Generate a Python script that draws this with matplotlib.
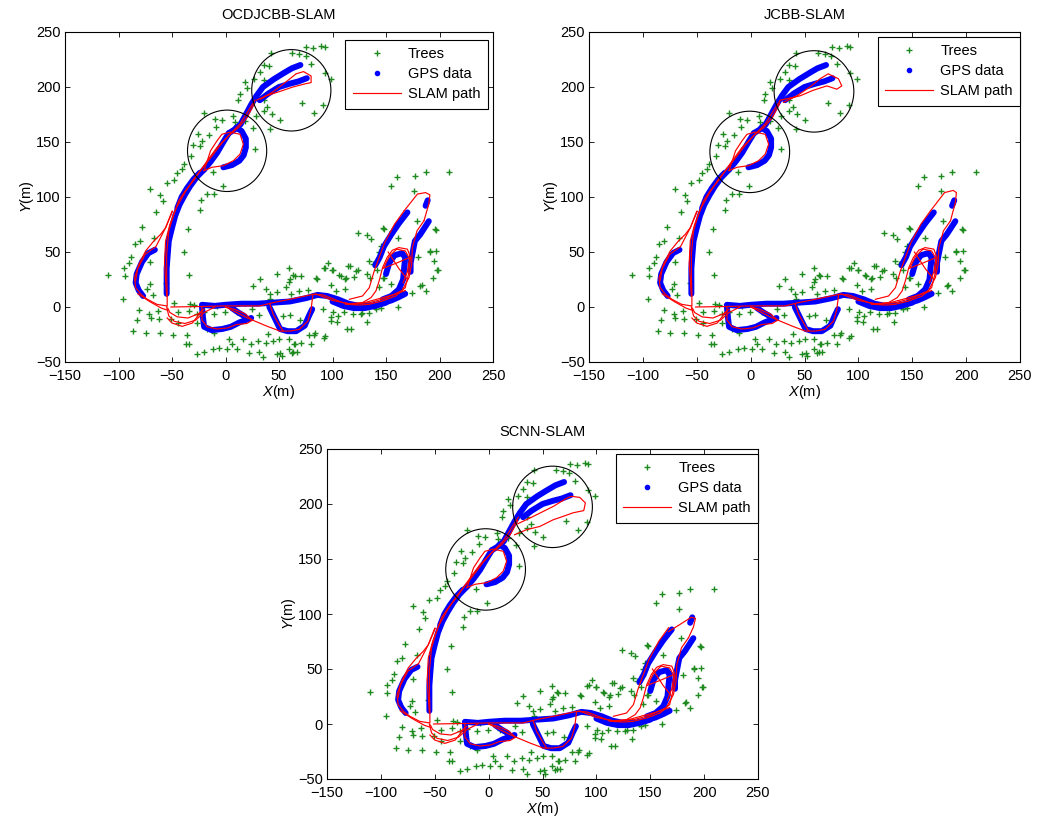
import matplotlib
matplotlib.use('Agg')
import matplotlib.pyplot as plt
from matplotlib.lines import Line2D
from matplotlib.patches import Circle

plt.rcParams['font.family'] = ['Liberation Sans', 'DejaVu Sans']
plt.rcParams['mathtext.fontset'] = 'custom'
plt.rcParams['mathtext.it'] = 'Liberation Sans:italic'
plt.rcParams['mathtext.rm'] = 'Liberation Sans'

titles = ['OCDJCBB-SLAM', 'JCBB-SLAM', 'SCNN-SLAM']
x_ticks = [-150, -100, -50, 0, 50, 100, 150, 200, 250]
y_ticks = [-50, 0, 50, 100, 150, 200, 250]
legend_labels = ['Trees', 'GPS data', 'SLAM path']

# ---- tree landmarks (x, y) in metres ----
trees = [
    (75.5, 236), (81.7, 235), (89.5, 237), (92.6, 236), (42.4, 231), (62.2, 231), (68.7, 230), (75, 228),
    (80, 221), (36, 220), (41, 219), (32, 214), (27, 207.5), (36, 206), (92.6, 212.7), (98.8, 207.5),
    (18, 204.5), (19.8, 199), (13.6, 194), (12, 188), (36, 188), (39, 182), (35.6, 178.6), (43, 175),
    (28.5, 174), (71.5, 185), (91, 184), (83, 176), (50.8, 170), (42, 162), (-20.4, 176.5), (-9.6, 171),
    (-3.4, 170), (7.4, 174), (9, 168), (18, 169.5), (25.4, 162.5), (-25.7, 157), (-15.8, 156), (-8.7, 163.5),
    (-22, 151), (-30.6, 147), (-23.5, 146), (27.9, 144), (-32.5, 137.6), (-38.4, 130), (-40.8, 125.5),
    (-20.4, 125.5), (-11.8, 123), (-45, 121.5), (-47.7, 115), (-55, 112.4), (-1.9, 109.7), (-70.6, 107),
    (-61.3, 102), (-58.8, 96.6), (-11, 103), (-17, 103), (-23, 97), (-23.5, 88), (-65, 86.6), (-77.7, 72.3),
    (-35, 70.8), (-66.9, 62.6), (-80, 60), (-84.8, 57.7), (-39, 50.4), (-88, 45.6), (-70.6, 41), (-94.7, 35.8),
    (-110, 28.9), (-94, 28), (-90, 40), (-34.4, 28.9), (-71, 20.7), (-56, 22), (-73, 16), (-68, 11),
    (-95.7, 7), (-80.8, -3), (-71.5, -6.7), (-63, -3.6), (-47.7, 4), (-44.6, -5), (-34.4, -3.6), (-29.7, 1.8),
    (-32.8, 2.4), (-27, -6.7), (-19.8, -4.3), (-11, -6.7), (-8, 1), (-0.3, -5), (5.9, 1), (11, -5),
    (24.5, -2), (31, -7), (-83, -12), (-70, -10), (-62, -11), (-51, -10.6), (-44.6, -15), (-27, -15),
    (-17, -20), (-11, -23.7), (-86, -21.9), (-74.6, -24), (-61.6, -24), (-49, -25.8), (-36, -25.8),
    (-36.8, -34), (-34.4, -34), (-27, -42.5), (-19.8, -41), (-12, -38), (-6.5, -37), (1, -38), (3.7, -28.9),
    (6, -34), (11, -38), (16.7, -29), (22, -41.6), (23.5, -34), (30.6, -31), (31.6, -40.7), (37.8, -32.5),
    (39.3, -25), (35.3, -45.6), (44.6, -31), (50, -29.5), (47.7, -43), (51, -42), (59, -38), (59, -29.5),
    (63, -41), (66.6, -41), (65, -34), (71, -32.5), (77.7, -25.5), (84, -23.7), (92.8, -26.4), (26, 19),
    (32, 25.8), (37.5, 16), (41.5, 11.5), (41.8, 7), (47.7, 13.7), (47.7, 29.8), (59, 35), (64.7, 28),
    (59, 22.8), (57, 18), (61.6, 12), (68.7, 14.6), (77, 15.5), (84.8, 26.7), (92.8, 35.8), (95.9, 40.4),
    (99.7, 33.7), (107.5, 28.2), (112, 25), (116, 37), (120, 27), (124, 33.4), (123.5, 67), (136, 61.7),
    (143.6, 50.4), (145, 55.6), (148, 70.8), (156, 69), (155, 109.7), (160.7, 118), (177, 119.4),
    (187, 122.4), (209, 123), (176.6, 105), (179, 78), (161.6, 63), (196, 70.8), (190.7, 50.4), (197, 51),
    (180, 45), (194.7, 42), (199, 33.4), (194, 26.7), (182, 19), (187, 14.6), (174, 13), (164, 11.5),
    (161, 0), (145, -1), (139.6, 0), (134, -5.8), (132.6, -14), (119.5, -6.7), (126.6, -6.7), (117, -19.7),
    (114, -19.7), (111, -5), (105, -8), (100.9, -5), (91, -2), (99, -12.8), (137.5, 39), (135, 26.7),
    (146.8, 26.7), (143, 18.5), (155, 20.7), (162, 17), (60, -7), (70, -12), (54, -8), (183.6, 19.7),
    (198, 34), (191, 50.7), (197, 70), (147, 72), (131.9, 65), (134, 41.6), (141.8, 34), (132, 30),
    (122, 33), (114.6, 37.4), (113, 26.4), (106, 29), (100, 34), (91.6, 35), (85.5, 25.8), (71, 28),
    (63, 29), (60, 25), (98.4, 20.4), (112, 16.7), (103, 14.3), (148, 26.4), (128, -5.5), (104.6, -14),
    (98.4, -9.4), (141, -1.5), (83, -25.8), (91.6, -28), (80, -33.4), (64.4, -33.4), (62, -42), (52.6, -45),
]
tree_x = [p[0] for p in trees]
tree_y = [p[1] for p in trees]

# ---- GPS track pieces ----
gps_upper = [(70, 220), (62, 217), (55, 213), (45, 207), (35, 200), (29, 192), (24, 184), (19, 175),
             (14, 166), (8, 161), (3, 158)]
gps_upper2 = [(76, 208), (68, 205), (60, 203), (50, 200), (40, 194), (32, 188)]
gps_loop = [(10, 163), (15, 160), (19, 153), (19, 145), (17, 138), (13, 133), (6, 129), (-2, 127)]
gps_inner = [(3, 158), (-2, 150), (-8, 140), (-14, 132), (-20, 125)]
gps_diag = [(-20, 125), (-27, 118), (-33, 110), (-38, 102), (-43, 93), (-47, 83), (-50, 72), (-53, 60),
            (-54, 48), (-55, 35), (-55, 22), (-55, 12)]
gps_diag2 = [(-24, 122), (-30, 116), (-36, 108), (-41, 100), (-45, 90)]
gps_left = [(-66, 52), (-72, 49), (-78, 41), (-83, 30), (-84, 22), (-81, 15), (-77, 10)]
gps_bottom = [(-22, 2), (-10, 1), (0, 2), (15, 3), (30, 3), (45, 4), (60, 5), (75, 8), (86, 11), (95, 10),
              (105, 7), (115, 3), (125, 1), (135, 1), (145, 3), (155, 6), (162, 9), (168, 12)]
gps_bottom2 = [(100, 5), (110, 1), (120, -1), (130, -1), (140, 1), (150, 4)]
gps_lower = [(-22, 0), (-21, -10), (-20, -18), (-13, -21), (-3, -20), (5, -18), (13, -14), (24, -10)]
gps_lower2 = [(6, -1), (12, -5), (18, -8.5)]
gps_triangle = [(41, 0), (46, -10), (51, -20), (58, -22), (66, -22), (74, -17), (78, -8), (81, -2)]
gps_arm1 = [(170, 86), (162, 76), (155, 66), (148, 55), (144, 45), (140, 38)]
gps_arm2 = [(190, 78), (186, 72), (182, 66), (177, 60), (175, 50), (173, 40), (173, 32)]
gps_rloop = [(150, 30), (153, 40), (158, 47), (165, 49), (168, 45), (167, 36), (166, 25), (162, 16),
             (155, 10), (147, 7)]
gps_tip = [(187, 92), (189, 97)]
gps_tracks = [gps_upper, gps_upper2, gps_loop, gps_inner, gps_diag, gps_diag2, gps_left, gps_bottom,
              gps_bottom2, gps_lower, gps_lower2, gps_triangle, gps_arm1, gps_arm2, gps_rloop, gps_tip]

# ---- SLAM path pieces (shared) ----
slam_main = [(27.6, 188), (21.4, 178.6), (13.6, 166.5), (1.2, 154), (-8, 145), (-17, 133), (-23.5, 124),
             (-29.7, 115), (-37.5, 105.7), (-43.7, 96.6), (-48.3, 84.5), (-53, 69), (-55, 48), (-55, 29.8),
             (-54.5, 11.5), (-54.5, 1)]
slam_main2 = [(-55, 10), (-57, 40), (-56, 60), (-52, 75), (-46, 90), (-38, 104), (-30, 116), (-20, 128),
              (-12, 138), (-5, 147), (3, 156), (12, 163), (20, 172), (27, 185)]
slam_mid_loop = [(-20, 124), (-14, 142), (-8, 151), (-3.4, 157), (4.3, 159), (13.6, 157), (16.7, 148),
                 (13.6, 139), (7.4, 133), (-1.9, 128.5), (-12.7, 127), (-20, 124)]
slam_left = [(-50, 87), (-56, 72), (-60.7, 66), (-67, 60), (-74.6, 51), (-80.8, 39), (-85, 26.7),
             (-84, 17.6), (-79, 11.5), (-73, 7), (-64, 2.4), (-55, 1)]
slam_left2 = [(-49.5, 87), (-56, 72), (-65, 55), (-75, 48), (-82, 35), (-84, 24)]
slam_outer = [(-82, 12), (-71, 5), (-60, -1), (-54, -3)]
slam_nest1 = [(-55, 0), (-53, -8), (-48, -13), (-38, -15), (-28, -12), (-20, -5), (-10, 0)]
slam_nest2 = [(-54, -1), (-52, -5), (-45, -9), (-35, -10), (-25, -6), (-20, -2)]
slam_nest3 = [(-54.5, -10), (-50, -14.6), (-40.6, -17.6), (-31, -14.6), (-25, -7), (-22, -4)]
slam_lower = [(-22, 0), (-22, -12), (-17, -18), (-8, -20), (2, -19), (10, -16), (20, -15), (25, -12),
              (18, -6), (8, -2), (0, 0)]
slam_cross = [(0, 0), (4.3, -2), (19.8, -9.7), (38.4, -17.3), (50.8, -21.9), (60, -21.9), (69, -20.4),
              (77, -12.8), (80, -2), (81.7, 11.5)]
slam_tri = [(41.5, 2.4), (44.6, -6.7), (50.8, -17.3), (53.9, -21.9)]
slam_bottom = [(-51, 0), (-20, 0.5), (0, 1), (32, 1), (44.6, 4), (63, 7.6), (81.7, 11.5), (91, 11),
               (100, 7.6), (109.6, 4), (119, 2.4), (128, 4), (136, 8.5), (140.6, 14.6), (143.6, 23.7),
               (146.8, 35.8), (151, 45), (156, 51.6), (162, 54), (170, 52.6), (173, 45), (171, 29.8),
               (168, 17.6), (159, 10), (146.8, 5.5), (134, 2.4), (125, 1.8), (112, 2.5)]
slam_bundle = [(84, 12), (100, 6), (115, 3), (130, 4), (145, 8), (160, 12), (168, 15)]
slam_arm_up = [(115.8, 7), (128, 10), (134.4, 17.6), (139, 32.8), (143.6, 45), (148.8, 58.6), (158, 75.3),
               (167, 87.5)]
slam_arm_down = [(185.5, 78.4), (179, 69.3), (174.6, 54), (174, 38.9), (171.5, 26.7), (165, 15), (150, 8),
                 (135, 4), (120, 3)]
slam_rloop = [(148, 36), (153, 46), (160, 52.6), (168, 51), (172, 44), (170, 32), (166, 22)]
slam_x1 = [(147, 35), (160, 40), (172, 45)]
slam_x2 = [(152, 50), (162, 35), (170, 25)]
slam_shared = [slam_main, slam_main2, slam_mid_loop, slam_left, slam_left2, slam_outer, slam_nest1,
               slam_nest2, slam_nest3, slam_lower, slam_cross, slam_tri, slam_bottom, slam_bundle,
               slam_rloop, slam_x1, slam_x2]

# ---- SLAM path pieces that differ per panel ----
slam_top_p1 = [(29, 188), (38, 192), (51, 196), (63, 200), (75, 203), (80, 204), (80, 210), (73, 214),
               (66, 212), (57, 205), (45, 196), (33, 189)]
slam_top_p2 = [(27.5, 188), (46, 192), (58, 197), (70.7, 201), (80, 198), (84.6, 201), (81.5, 207.5),
               (72, 212), (64.5, 207.5), (55, 200), (43, 192), (30.5, 186)]
slam_top_p3 = [(27, 182), (41.4, 188.7), (60, 197.8), (72, 205), (76.8, 207), (84.6, 206), (89.8, 201),
               (88.3, 194), (78.4, 192), (69, 188.7), (60, 185.7), (47.5, 179.6), (35, 176.6), (24, 172)]
slam_tip_p1 = [(167, 87.5), (179.4, 102.7), (187, 104), (191, 102), (190, 93.6), (185.5, 78.4)]
slam_tip_p2 = [(167, 87.5), (180, 104), (188, 106), (191, 104), (190, 95), (185.5, 78.4)]
slam_tip_p3 = [(167, 84), (180, 92), (188, 97), (192, 96), (190, 88), (185.5, 78.4)]
slam_top = [slam_top_p1, slam_top_p2, slam_top_p3]
slam_tip = [slam_tip_p1, slam_tip_p2, slam_tip_p3]

# ---- highlighted circles per panel: (cx, cy) ----
circle_centers = [
    [(1.5, 142), (61.5, 197)],
    [(-0.8, 141), (58.8, 196)],
    [(-2.8, 140.5), (59.3, 197.4)],
]
circle_radius = 37

# ---- layout ----
fig = plt.figure(figsize=(10.37, 8.25), dpi=100)
axes_rects = [
    [65 / 1037, 1 - 362 / 825, 428 / 1037, 330 / 825],
    [589 / 1037, 1 - 362 / 825, 431 / 1037, 330 / 825],
    [327 / 1037, 1 - 779 / 825, 431 / 1037, 330 / 825],
]
legend_anchor = [(0.988, 0.976), (1.0, 0.985), (1.0, 0.985)]

tree_color = '#1f8a1f'
fs = 10.5

for i, rect in enumerate(axes_rects):
    ax = fig.add_axes(rect)
    ax.plot(tree_x, tree_y, '+', color=tree_color, ms=5, mew=1.0, zorder=1)
    for seg in gps_tracks:
        ax.plot([p[0] for p in seg], [p[1] for p in seg], '-', color='#0000ff', lw=4.3,
                solid_capstyle='round', solid_joinstyle='round', zorder=2)
    for seg in slam_shared + [slam_top[i], slam_tip[i], slam_arm_up, slam_arm_down]:
        ax.plot([p[0] for p in seg], [p[1] for p in seg], '-', color='#ff0000', lw=0.85, zorder=3)
    for (cx, cy) in circle_centers[i]:
        ax.add_patch(Circle((cx, cy), circle_radius, fill=False, ec='black', lw=0.8, zorder=4))
    ax.set_xlim(-150, 250)
    ax.set_ylim(-50, 250)
    ax.set_xticks(x_ticks)
    ax.set_yticks(y_ticks)
    ax.set_xticklabels([f'{t:d}'.replace('-', '\u2212') for t in x_ticks])
    ax.set_yticklabels([f'{t:d}'.replace('-', '\u2212') for t in y_ticks])
    ax.tick_params(direction='in', top=True, right=True, length=3.5, width=0.6, labelsize=fs)
    ax.tick_params(axis='x', pad=5)
    ax.tick_params(axis='y', pad=3)
    for sp in ax.spines.values():
        sp.set_linewidth(0.8)
        sp.set_color('black')
    ax.set_title(titles[i], fontsize=fs, pad=9)
    ax.set_xlabel('$\\it{X}$(m)', fontsize=fs, labelpad=0)
    ax.set_ylabel('$\\it{Y}$(m)', fontsize=fs, labelpad=0)
    handles = [
        Line2D([], [], color=tree_color, marker='+', ls='none', ms=5, mew=1.0),
        Line2D([], [], color='#0000ff', marker='.', ls='none', ms=6),
        Line2D([], [], color='#ff0000', lw=0.85),
    ]
    leg = ax.legend(handles, legend_labels, loc='upper right', bbox_to_anchor=legend_anchor[i],
                    borderaxespad=0, fontsize=fs, handlelength=3.3, handletextpad=0.5,
                    labelspacing=0.42, borderpad=0.5, fancybox=False, framealpha=1, edgecolor='black')
    leg.get_frame().set_linewidth(0.8)
    leg.set_zorder(5)

fig.savefig('out.png', dpi=100)
